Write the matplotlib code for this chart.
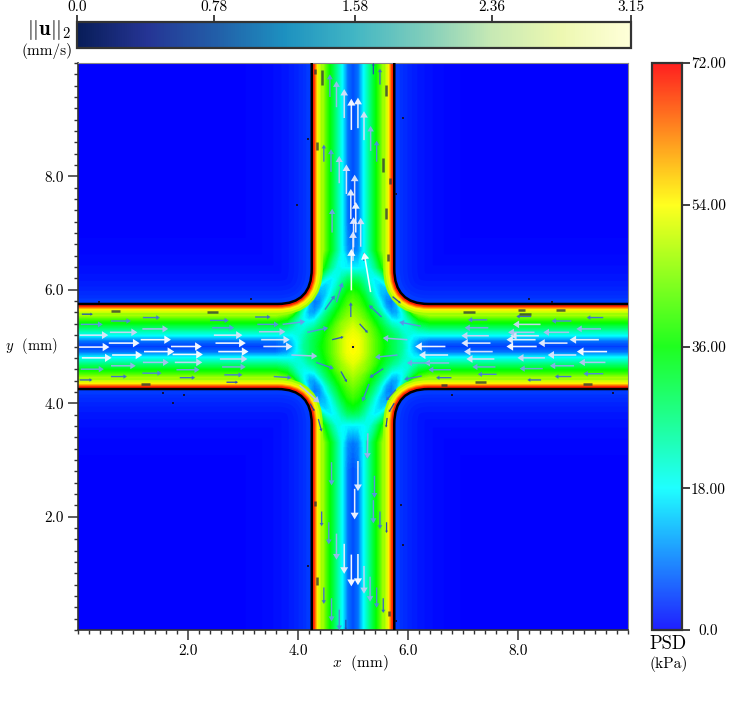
import numpy as np
import matplotlib
matplotlib.use("Agg")
import matplotlib.pyplot as plt
from matplotlib.cm import ScalarMappable
from matplotlib.colors import LinearSegmentedColormap, Normalize
from matplotlib.patches import PathPatch
from matplotlib.path import Path
from matplotlib.ticker import MultipleLocator

plt.rcParams["font.family"] = ["cmr10"]
plt.rcParams["mathtext.fontset"] = "cm"
plt.rcParams["axes.formatter.use_mathtext"] = True

# distance from the junction centre (mm)
knots = [0.0, 0.1, 0.2, 0.3, 0.4, 0.5, 0.6, 0.7, 0.8, 0.9, 1.0, 1.1, 1.2, 1.4, 1.7, 2.2, 5.0]

# PSD (kPa) in one quadrant, rows = |y-5|, columns = |x-5|
psd_quadrant = [
    [55, 53, 50, 46, 42, 38, 35, 31, 28, 25, 19, 13, 8, 5, 4, 4, 4],
    [54, 53, 50, 46, 42, 38, 34, 31, 28, 24, 19, 15, 11, 8, 8, 8, 8],
    [53, 52, 49, 45, 41, 37, 33, 30, 27, 23, 20, 18, 18, 18, 18, 18, 18],
    [52, 50, 47, 44, 40, 35, 31, 27, 24, 21, 21, 22, 24, 26, 26, 26, 26],
    [50, 48, 46, 42, 37, 32, 27, 22, 20, 19, 21, 26, 31, 34, 34, 34, 34],
    [48, 46, 43, 39, 34, 29, 23, 16, 15, 18, 24, 31, 38, 42, 42, 42, 42],
    [46, 44, 41, 36, 31, 25, 17, 11, 12, 19, 30, 42, 48, 52, 52, 52, 52],
    [44, 42, 38, 33, 27, 20, 12, 9, 13, 24, 38, 50, 60, 66, 66, 66, 66],
    [42, 40, 36, 30, 24, 17, 10, 8, 15, 28, 44, 58, 66, 72, 72, 72, 72],
    [40, 38, 33, 27, 20, 14, 11, 12, 20, 35, 50, 64, 72, 72, 72, 72, 72],
    [37, 35, 30, 24, 18, 14, 13, 16, 26, 44, 60, 72, 72, 72, 72, 72, 72],
    [34, 32, 27, 21, 17, 15, 18, 26, 38, 54, 70, 72, 72, 72, 72, 72, 72],
    [29, 28, 24, 19, 17, 20, 28, 36, 48, 62, 72, 72, 72, 72, 72, 72, 72],
    [17, 17, 18, 20, 26, 34, 44, 55, 66, 72, 72, 72, 72, 72, 72, 72, 72],
    [8, 10, 18, 26, 34, 42, 52, 66, 72, 72, 72, 72, 72, 72, 72, 72, 72],
    [5, 8, 18, 26, 34, 42, 52, 66, 72, 72, 72, 72, 72, 72, 72, 72, 72],
    [5, 8, 18, 26, 34, 42, 52, 66, 72, 72, 72, 72, 72, 72, 72, 72, 72],
]

# PSD next to the wall: distance from wall (mm), value
near_wall_dist = [0.20, 0.16, 0.12, 0.09, 0.07, 0.05]
near_wall_psd = [47, 51, 55, 60, 65, 70]
outside_dist = [1.2, 0.9, 0.7, 0.55, 0.42, 0.32, 0.24, 0.16, 0.1]
outside_psd = [0.3, 0.6, 1.0, 1.5, 2.0, 2.5, 3.0, 3.5, 4.2]

# arrows: tail position and components (mm)
left_x = [0.02, 0.56, 1.14, 1.69, 2.50, 0.62, 1.20, 1.72, 2.55, 0.07, 0.03, 0.58, 1.17, 2.44, 2.47, 0.05, 0.60, 1.18,
          2.40, 0.07, 1.18, 1.76, 2.58, 0.60, 0.05, 1.79, 2.62, 1.17, 2.66, 0.60, 1.85, 0.03, 2.70,
          3.37, 3.33, 3.29, 3.26, 3.22, 3.72, 3.88, 3.56]
left_y = [4.99, 5.06, 5.12, 5.00, 5.06, 4.85, 4.91, 4.86, 4.91, 4.80, 5.20, 5.25, 5.31, 5.33, 5.20, 5.39, 5.45, 5.51,
          5.46, 5.57, 4.72, 4.72, 4.78, 4.66, 4.60, 4.59, 4.64, 4.53, 4.50, 4.47, 4.45, 4.41, 4.37,
          5.00, 5.12, 5.26, 5.39, 5.52, 5.39, 4.85, 4.47]
left_u = [0.55, 0.56, 0.55, 0.56, 0.55, 0.55, 0.55, 0.55, 0.55, 0.54, 0.52, 0.50, 0.47, 0.40, 0.52, 0.40, 0.36, 0.31,
          0.34, 0.20, 0.47, 0.50, 0.50, 0.45, 0.42, 0.42, 0.43, 0.35, 0.33, 0.29, 0.28, 0.23, 0.21,
          0.53, 0.52, 0.48, 0.39, 0.28, 0.41, 0.47, 0.32]
left_v = [0.0] * 33 + [0.0, 0.0, 0.0, 0.0, 0.0, 0.05, -0.02, -0.02]

right_x = [7.50, 8.34, 8.90, 9.47, 8.32, 7.54, 9.06, 9.62, 7.57, 8.49, 7.47, 8.38, 8.30, 8.93, 7.46, 9.51, 8.41, 7.44,
           8.97, 8.24, 9.55, 7.59, 9.02, 9.59, 8.45, 7.61, 8.97, 9.55, 8.42,
           6.68, 6.73, 6.75, 6.40, 6.78, 6.79, 6.23, 6.25]
right_y = [5.06, 5.00, 5.06, 5.12, 5.12, 4.91, 4.85, 4.91, 4.78, 4.80, 5.19, 5.19, 5.25, 5.25, 5.33, 5.31, 5.39, 5.47,
           5.45, 5.53, 5.51, 4.64, 4.66, 4.72, 4.61, 4.51, 4.47, 4.52, 4.41,
           5.00, 4.85, 4.71, 4.71, 4.59, 4.45, 5.36, 4.48]
right_u = [-0.53, -0.55, -0.53, -0.53, -0.53, -0.52, -0.52, -0.55, -0.51, -0.50, -0.50, -0.52, -0.48, -0.47, -0.43,
           -0.45, -0.50, -0.35, -0.36, -0.27, -0.30, -0.42, -0.44, -0.48, -0.42, -0.34, -0.30, -0.36, -0.25,
           -0.55, -0.53, -0.45, -0.42, -0.41, -0.28, -0.39, -0.32]
right_v = [0.0] * 35 + [0.07, -0.06]

top_x = [4.58, 4.70, 4.84, 4.97, 5.09, 5.20, 5.32, 5.43, 4.47, 4.60, 4.75, 4.88, 5.03, 4.96, 5.05, 5.01, 5.14, 4.62,
         5.00, 5.20, 5.49, 5.37, 4.97, 5.32]
top_y = [9.40, 9.22, 9.03, 8.82, 8.85, 8.64, 8.45, 8.26, 8.26, 8.08, 7.88, 7.69, 7.51, 7.25, 7.01, 6.75, 6.76, 7.01,
         6.51, 6.51, 9.62, 9.80, 5.99, 5.96]
top_u = [0.0] * 22 + [0.0, -0.12]
top_v = [0.40, 0.46, 0.51, 0.55, 0.54, 0.51, 0.44, 0.37, 0.30, 0.40, 0.48, 0.52, 0.52, 0.53, 0.54, 0.53, 0.51, 0.42,
         0.52, 0.15, 0.28, 0.20, 0.73, 0.70]

bottom_x = [4.61, 5.09, 5.03, 5.26, 5.39, 5.37, 5.49, 5.61, 4.43, 4.56, 4.70, 4.84, 4.97, 5.09, 5.20, 5.31, 5.43, 5.55,
            4.47, 4.61, 4.75, 4.87, 5.27]
bottom_y = [2.96, 2.98, 2.49, 3.34, 2.72, 2.29, 2.09, 1.90, 2.09, 1.90, 1.70, 1.52, 1.33, 1.34, 1.13, 0.94, 0.75, 0.56,
            0.75, 0.56, 0.36, 0.18, 3.47]
bottom_u = [0.0] * 22 + [-0.01]
bottom_v = [-0.41, -0.53, -0.54, -0.32, -0.39, -0.41, -0.31, -0.19, -0.26, -0.39, -0.46, -0.53, -0.56, -0.55, -0.49,
            -0.44, -0.36, -0.26, -0.29, -0.41, -0.36, -0.18, -0.45]

centre_x = [4.17, 4.62, 5.12, 4.96, 4.49, 4.70, 5.52, 5.72, 5.99, 5.81, 5.55, 5.29, 4.78, 4.33, 4.03, 4.22, 4.37, 5.75,
            5.62, 5.78]
centre_y = [5.25, 5.12, 5.40, 5.52, 5.65, 5.78, 5.52, 5.88, 5.12, 4.85, 4.61, 4.34, 4.56, 4.72, 4.32, 3.99, 3.72, 4.00,
            3.74, 4.24]
centre_u = [0.38, 0.21, 0.15, 0.0, 0.18, 0.11, -0.23, 0.15, -0.45, -0.41, -0.25, -0.12, 0.11, 0.32, 0.36, 0.08, 0.06,
            -0.10, -0.02, -0.18]
centre_v = [0.08, 0.05, -0.16, 0.26, 0.25, 0.35, 0.21, -0.12, 0.03, -0.04, -0.16, -0.31, -0.19, -0.11, -0.31, -0.13,
            -0.22, -0.16, -0.17, -0.19]

# short dark dashes lying along the channel walls: start and end (mm)
dash_x0 = [0.60, 1.14, 2.35, 7.21, 8.23, 8.85, 7.42, 9.35, 8.13, 6.70, 4.30, 4.34, 4.44, 5.60, 5.55, 5.67, 5.60, 5.64,
           4.34, 4.30, 5.65]
dash_x1 = [0.77, 1.30, 2.55, 7.00, 8.01, 8.69, 7.22, 9.19, 8.00, 6.60, 4.30, 4.34, 4.44, 5.60, 5.55, 5.67, 5.60, 5.64,
           4.34, 4.30, 5.65]
dash_y0 = [5.63, 4.33, 5.60, 5.60, 5.58, 5.64, 4.37, 4.34, 5.65, 4.32, 9.80, 8.46, 9.62, 9.42, 8.07, 7.86, 7.25, 6.50,
           0.94, 2.28, 0.34]
dash_y1 = [5.63, 4.33, 5.60, 5.60, 5.58, 5.64, 4.37, 4.34, 5.65, 4.32, 9.89, 8.61, 9.87, 9.62, 8.32, 7.98, 7.45, 6.63,
           0.79, 2.18, 0.25]

# stray dark specks
speck_x = [5.00, 0.38, 3.14, 1.54, 1.93, 1.73, 8.20, 8.62, 6.80, 9.73, 5.91, 3.99, 4.18, 5.79, 5.88, 5.91, 4.18, 5.79]
speck_y = [5.00, 5.79, 5.83, 4.18, 4.14, 4.00, 5.83, 5.79, 4.14, 4.18, 9.03, 7.50, 8.66, 7.69, 2.20, 1.50, 1.12, 0.15]

speed_ticks = [0.0, 0.78, 1.58, 2.36, 3.15]
speed_labels = ["0.0", "0.78", "1.58", "2.36", "3.15"]
psd_ticks = [0, 18, 36, 54, 72]
psd_labels = ["0.0", "18.00", "36.00", "54.00", "72.00"]

psd_cmap = LinearSegmentedColormap.from_list("psd", ["#0000ff", "#00ffff", "#00ff00", "#ffff00", "#ff0000"], N=512)
arrow_cmap = LinearSegmentedColormap.from_list(
    "arrows", [(0.0, "#12126a"), (0.3, "#2a50c8"), (0.68, "#5a96e6"), (0.85, "#b8c4f2"), (1.0, "#ffffff")])
psd_norm = Normalize(0, 72)
arrow_norm = Normalize(0.08, 0.55)

WIDTH, HEIGHT = 747, 712
WALL = 0.75
FILLET = 0.62
PT_PER_MM = 55 * 0.72


def corner_path(sx, sy, closed):
    verts = [(5 + sx * WALL, 5 + sy * 5.3),
             (5 + sx * WALL, 5 + sy * (WALL + FILLET)),
             (5 + sx * WALL, 5 + sy * WALL),
             (5 + sx * (WALL + FILLET), 5 + sy * WALL),
             (5 + sx * 5.3, 5 + sy * WALL)]
    codes = [Path.MOVETO, Path.LINETO, Path.CURVE3, Path.CURVE3, Path.LINETO]
    if closed:
        verts += [(5 + sx * 5.3, 5 + sy * 5.3), (5 + sx * WALL, 5 + sy * 5.3)]
        codes += [Path.LINETO, Path.CLOSEPOLY]
    return Path(verts, codes)


fig = plt.figure(figsize=(WIDTH / 100, HEIGHT / 100), dpi=100)
ax = fig.add_axes([78 / WIDTH, 1 - 630 / HEIGHT, 550 / WIDTH, 567 / HEIGHT])
cax_top = fig.add_axes([77 / WIDTH, 1 - 48 / HEIGHT, 554 / WIDTH, 26 / HEIGHT])
cax_right = fig.add_axes([652 / WIDTH, 1 - 630 / HEIGHT, 30 / WIDTH, 567 / HEIGHT])

# field inside the channels
k = np.array(knots)
coords = np.concatenate([5 - k[:0:-1], 5 + k])
quad = np.array(psd_quadrant, dtype=float)
quad = np.hstack([quad[:, :0:-1], quad])
field = np.vstack([quad[:0:-1], quad])
ax.contourf(coords, coords, field, levels=np.linspace(0, 72, 145), cmap=psd_cmap, norm=psd_norm)

corners = [(-1, -1), (1, -1), (-1, 1), (1, 1)]
for sx, sy in corners:
    for dist, value in zip(near_wall_dist, near_wall_psd):
        ax.add_patch(PathPatch(corner_path(sx, sy, False), fill=False, lw=2 * dist * PT_PER_MM,
                               ec=psd_cmap(psd_norm(value))))
for sx, sy in corners:
    block = PathPatch(corner_path(sx, sy, True), fc=psd_cmap(0.0), ec="none", zorder=2)
    ax.add_patch(block)
    for dist, value in zip(outside_dist, outside_psd):
        glow = PathPatch(corner_path(sx, sy, False), fill=False, lw=2 * dist * PT_PER_MM,
                         ec=psd_cmap(psd_norm(value)), zorder=2)
        ax.add_patch(glow)
        glow.set_clip_path(block)
    ax.add_patch(PathPatch(corner_path(sx, sy, False), fill=False, lw=1.8, ec="#000000", zorder=3))

# velocity arrows, the head grows with the length of the arrow
arrow_x = left_x + right_x + top_x + bottom_x + centre_x
arrow_y = left_y + right_y + top_y + bottom_y + centre_y
arrow_u = left_u + right_u + top_u + bottom_u + centre_u
arrow_v = left_v + right_v + top_v + bottom_v + centre_v
for x0, y0, u0, v0 in zip(arrow_x, arrow_y, arrow_u, arrow_v):
    size = np.hypot(u0, v0)
    head = min(size, 0.55)
    ax.arrow(x0, y0, u0, v0, width=0.02 + 0.015 * head, head_width=0.27 * head, head_length=0.22 * head,
             length_includes_head=True, fc=arrow_cmap(arrow_norm(size)), ec="none", alpha=0.95, zorder=4)
for x0, x1, y0, y1 in zip(dash_x0, dash_x1, dash_y0, dash_y1):
    ax.plot([x0, x1], [y0, y1], color="#26303c", lw=1.8, alpha=0.75, solid_capstyle="butt", zorder=4)
ax.scatter(speck_x, speck_y, s=2, c="#101040", marker="s", lw=0, zorder=4)

ax.set_xlim(0, 10)
ax.set_ylim(0, 10)
ax.set_xticks([2, 4, 6, 8])
ax.set_yticks([2, 4, 6, 8])
ax.set_xticklabels(["2.0", "4.0", "6.0", "8.0"])
ax.set_yticklabels(["2.0", "4.0", "6.0", "8.0"])
ax.xaxis.set_minor_locator(MultipleLocator(0.2))
ax.yaxis.set_minor_locator(MultipleLocator(0.2))
ax.tick_params(which="major", length=7, width=1.1, color="#333333", labelsize=11, pad=3)
ax.tick_params(which="minor", length=3, width=1.0, color="#333333")
for side in ["left", "bottom"]:
    ax.spines[side].set_linewidth(1.2)
    ax.spines[side].set_color("#333333")
for side in ["top", "right"]:
    ax.spines[side].set_linewidth(0.8)
    ax.spines[side].set_color("#888888")
ax.text(0.513, -0.058, r"$x$  (mm)", transform=ax.transAxes, ha="center", va="center", fontsize=11)
fig.text(58 / WIDTH, 1 - 346 / HEIGHT, r"$y$  (mm)", ha="right", va="center", fontsize=10.5)

# speed colour bar
cb_top = fig.colorbar(ScalarMappable(Normalize(0, 3.15), "YlGnBu_r"), cax=cax_top, orientation="horizontal")
cb_top.set_ticks(speed_ticks, labels=speed_labels)
cax_top.xaxis.set_ticks_position("top")
cax_top.tick_params(length=5, width=1.3, color="#333333", labelsize=11, pad=0.5)
cb_top.outline.set_linewidth(1.6)
cb_top.outline.set_edgecolor("#333333")
fig.text(71 / WIDTH, 1 - 30 / HEIGHT, r"$||\mathbf{u}||_2$", ha="right", va="center", fontsize=15)
fig.text(73 / WIDTH, 1 - 51 / HEIGHT, "(mm/s)", ha="right", va="center", fontsize=11)

# pressure colour bar
cb_right = fig.colorbar(ScalarMappable(psd_norm, psd_cmap), cax=cax_right, alpha=0.88)
cb_right.set_ticks(psd_ticks, labels=psd_labels)
cax_right.tick_params(length=6, width=1.3, color="#333333", labelsize=11, pad=13)
for label in cax_right.get_yticklabels():
    label.set_ha("center")
cb_right.outline.set_linewidth(1.6)
cb_right.outline.set_edgecolor("#333333")
fig.text(668.5 / WIDTH, 1 - 644 / HEIGHT, "PSD", ha="center", va="center", fontsize=13.5)
fig.text(668.5 / WIDTH, 1 - 664 / HEIGHT, "(kPa)", ha="center", va="center", fontsize=11)

fig.savefig("out.png", dpi=100)
